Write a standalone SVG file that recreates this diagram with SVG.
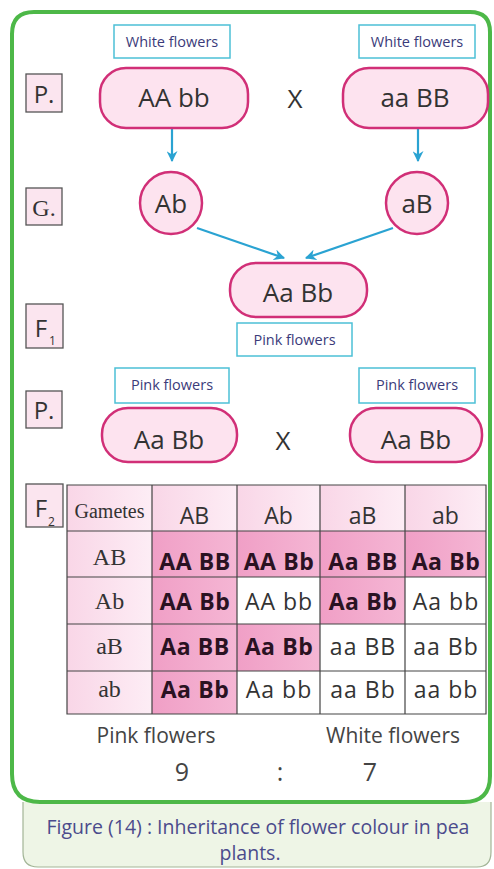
<svg xmlns="http://www.w3.org/2000/svg" width="494" height="869" viewBox="0 0 494 869">
<defs>
<style>
.node{fill:#fde3ef;stroke:#d12f77;stroke-width:2.5}
.lbl{fill:#ffffff;stroke:#4cc0d6;stroke-width:1.5}
.lt{font-family:"Open Sans","DejaVu Sans",sans-serif;font-size:14.5px;fill:#3b3b7a;text-anchor:middle}
.big{font-family:"Open Sans","DejaVu Sans",sans-serif;font-size:26px;fill:#333;text-anchor:middle}
.tag{fill:#fbe5ef;stroke:#555;stroke-width:1.3}
.tt{font-family:"Open Sans","DejaVu Sans",sans-serif;font-size:24px;fill:#333;text-anchor:middle}
.ts{font-family:"Liberation Serif",serif;font-size:24px;fill:#333;text-anchor:middle}
.sub{font-family:"Open Sans","DejaVu Sans",sans-serif;font-size:12px;fill:#333}
.arr{stroke:#2aa3d2;stroke-width:2.2;fill:none;marker-end:url(#ah)}
.grid{fill:none;stroke:#444;stroke-width:1.2}
.hd{font-family:"Open Sans","DejaVu Sans",sans-serif;font-size:23px;fill:#333;text-anchor:middle}
.rl{font-family:"Liberation Serif",serif;font-size:24px;fill:#333;text-anchor:middle}
.cb{font-family:"Open Sans","DejaVu Sans",sans-serif;font-size:23px;font-weight:bold;fill:#2a1222;text-anchor:middle;letter-spacing:0.6px}
.cr{font-family:"Open Sans","DejaVu Sans",sans-serif;font-size:23px;fill:#333;text-anchor:middle;letter-spacing:1px}
.pk{fill:url(#pinkg)}
.hdf{fill:url(#hdg)}
.wt{fill:#ffffff}
.res{font-family:"Open Sans","DejaVu Sans",sans-serif;font-size:21px;fill:#444;text-anchor:middle}
.num{font-family:"Open Sans","DejaVu Sans",sans-serif;font-size:25px;fill:#444;text-anchor:middle}
.cap{font-family:"Open Sans","DejaVu Sans",sans-serif;font-size:19.5px;fill:#4b4b8c;text-anchor:middle}
</style>
<linearGradient id="pinkg" x1="0" y1="0" x2="1" y2="0">
<stop offset="0" stop-color="#f09fc6"/>
<stop offset="1" stop-color="#f5b6d4"/>
</linearGradient>
<linearGradient id="hdg" x1="0" y1="0" x2="1" y2="0">
<stop offset="0" stop-color="#f9d6e7"/>
<stop offset="1" stop-color="#fdedf5"/>
</linearGradient>
<marker id="ah" viewBox="0 0 10 10" refX="9" refY="5" markerWidth="11" markerHeight="11" markerUnits="userSpaceOnUse" orient="auto">
<path d="M0,0 L10,5 L0,10 L3,5 z" fill="#2aa3d2"/>
</marker>
</defs>
<rect x="0" y="0" width="494" height="869" fill="#ffffff"/>
<g id="caption">
<path d="M23,802 L23,852 Q23,867 38,867 L477,867 Q491,867 491,852 L491,802" fill="#eef5e6" stroke="#a3b597" stroke-width="1.2"/>
<text class="cap" x="258" y="834">Figure (14) : Inheritance of flower colour in pea</text>
<text class="cap" x="250" y="860">plants.</text>
</g>
<g id="frame">
<path d="M12,34 Q12,12 34,12 L470,12 Q490,12 490,32 L490,776 Q490,802 464,802 L40,802 Q12,802 12,774 Z" fill="none" stroke="#4db848" stroke-width="4"/>
</g>
<g id="connectors">
<line class="arr" x1="172" y1="129" x2="172" y2="161"/>
<line class="arr" x1="418" y1="129" x2="418" y2="161"/>
<line class="arr" x1="197" y1="228" x2="284" y2="258"/>
<line class="arr" x1="393" y1="228" x2="306" y2="258"/>
</g>
<g id="tag-P1"><rect class="tag" x="26" y="74" width="36" height="38"/><text class="tt" x="44" y="103">P.</text></g>
<g id="tag-G"><rect class="tag" x="26" y="188" width="36" height="37"/><text class="ts" x="44" y="216">G.</text></g>
<g id="tag-F1"><rect class="tag" x="26" y="304" width="37" height="44"/><text class="tt" x="41" y="337">F</text><text class="sub" x="49" y="345">1</text></g>
<g id="tag-P2"><rect class="tag" x="26" y="391" width="36" height="37"/><text class="tt" x="44" y="419">P.</text></g>
<g id="tag-F2"><rect class="tag" x="26" y="484" width="37" height="43"/><text class="tt" x="41" y="517">F</text><text class="sub" x="48" y="526">2</text></g>
<g id="label-w1"><rect class="lbl" x="114" y="25" width="116" height="33"/><text class="lt" x="172" y="47">White flowers</text></g>
<g id="label-w2"><rect class="lbl" x="359" y="25" width="116" height="33"/><text class="lt" x="417" y="47">White flowers</text></g>
<g id="node-AAbb"><rect class="node" x="100" y="68" width="148" height="60" rx="26"/><text class="big" x="174" y="107">AA bb</text></g>
<g id="cross1"><text class="big" x="295" y="108">X</text></g>
<g id="node-aaBB"><rect class="node" x="343" y="68" width="145" height="60" rx="26"/><text class="big" x="415" y="107">aa BB</text></g>
<g id="gamete-Ab"><circle class="node" cx="171" cy="203" r="31"/><text class="big" x="171" y="213">Ab</text></g>
<g id="gamete-aB"><circle class="node" cx="417" cy="203" r="31"/><text class="big" x="417" y="213">aB</text></g>
<g id="node-F1"><rect class="node" x="230" y="263" width="137" height="54" rx="26"/><text class="big" x="298" y="302">Aa Bb</text></g>
<g id="label-F1"><rect class="lbl" x="237" y="323" width="115" height="33"/><text class="lt" x="294.5" y="345">Pink flowers</text></g>
<g id="label-p1"><rect class="lbl" x="115" y="368" width="114" height="35"/><text class="lt" x="172" y="390">Pink flowers</text></g>
<g id="label-p2"><rect class="lbl" x="359" y="368" width="116" height="35"/><text class="lt" x="417" y="390">Pink flowers</text></g>
<g id="node-P2a"><rect class="node" x="102" y="408" width="135" height="54" rx="26"/><text class="big" x="169" y="449">Aa Bb</text></g>
<g id="cross2"><text class="big" x="283" y="450">X</text></g>
<g id="node-P2b"><rect class="node" x="350" y="408" width="132" height="54" rx="26"/><text class="big" x="416" y="449">Aa Bb</text></g>
<g id="punnett">
<rect class="hdf" x="67" y="485" width="85" height="46"/>
<rect class="hdf" x="152" y="485" width="85" height="46"/>
<rect class="hdf" x="237" y="485" width="83" height="46"/>
<rect class="hdf" x="320" y="485" width="85" height="46"/>
<rect class="hdf" x="405" y="485" width="81" height="46"/>
<rect class="hdf" x="67" y="531" width="85" height="46"/>
<rect class="hdf" x="67" y="577" width="85" height="47"/>
<rect class="hdf" x="67" y="624" width="85" height="47"/>
<rect class="hdf" x="67" y="671" width="85" height="43"/>
<rect class="pk" x="152" y="531" width="85" height="46"/>
<rect class="pk" x="237" y="531" width="83" height="46"/>
<rect class="pk" x="320" y="531" width="85" height="46"/>
<rect class="pk" x="405" y="531" width="81" height="46"/>
<rect class="pk" x="152" y="577" width="85" height="47"/>
<rect class="wt" x="237" y="577" width="83" height="47"/>
<rect class="pk" x="320" y="577" width="85" height="47"/>
<rect class="wt" x="405" y="577" width="81" height="47"/>
<rect class="pk" x="152" y="624" width="85" height="47"/>
<rect class="pk" x="237" y="624" width="83" height="47"/>
<rect class="wt" x="320" y="624" width="166" height="47"/>
<rect class="pk" x="152" y="671" width="85" height="43"/>
<rect class="wt" x="237" y="671" width="249" height="43"/>
<path class="grid" d="M67,485 H486 V714 H67 Z M152,485 V714 M237,485 V714 M320,485 V714 M405,485 V714 M67,531 H486 M67,577 H486 M67,624 H486 M67,671 H486"/>
<text class="rl" x="109.5" y="518" style="font-size:20px">Gametes</text>
<text class="hd" x="194.5" y="524">AB</text>
<text class="hd" x="278.5" y="524">Ab</text>
<text class="hd" x="362.5" y="524">aB</text>
<text class="hd" x="445.5" y="524">ab</text>
<text class="rl" x="109.5" y="565">AB</text>
<text class="rl" x="109.5" y="609">Ab</text>
<text class="rl" x="109.5" y="654">aB</text>
<text class="rl" x="109.5" y="697">ab</text>
<text class="cb" x="195" y="570">AA BB</text>
<text class="cb" x="279" y="570">AA Bb</text>
<text class="cb" x="363" y="570">Aa BB</text>
<text class="cb" x="446" y="570">Aa Bb</text>
<text class="cb" x="195" y="610">AA Bb</text>
<text class="cr" x="279" y="610">AA bb</text>
<text class="cb" x="363" y="610">Aa Bb</text>
<text class="cr" x="446" y="610">Aa bb</text>
<text class="cb" x="195" y="655">Aa BB</text>
<text class="cb" x="279" y="655">Aa Bb</text>
<text class="cr" x="363" y="655">aa BB</text>
<text class="cr" x="446" y="655">aa Bb</text>
<text class="cb" x="195" y="698">Aa Bb</text>
<text class="cr" x="279" y="698">Aa bb</text>
<text class="cr" x="363" y="698">aa Bb</text>
<text class="cr" x="446" y="698">aa bb</text>
</g>
<g id="result">
<text class="res" x="156" y="743">Pink flowers</text>
<text class="res" x="393" y="743">White flowers</text>
<text class="num" x="182" y="781">9</text>
<text class="num" x="280" y="781">:</text>
<text class="num" x="370" y="781">7</text>
</g>
</svg>
